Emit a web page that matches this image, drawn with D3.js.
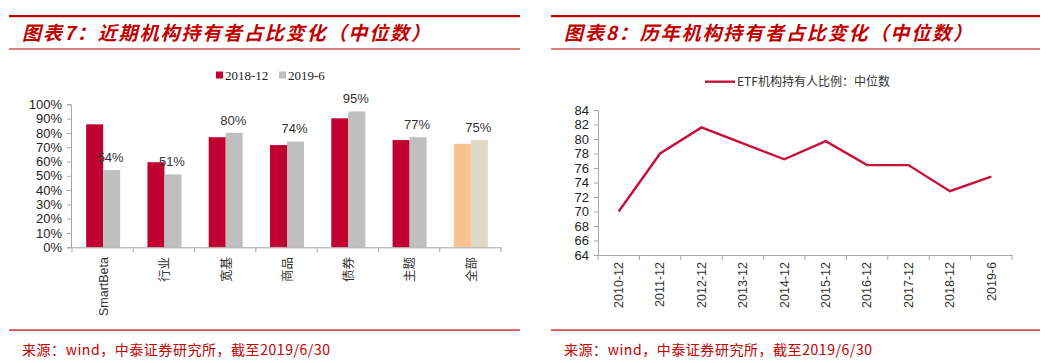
<!DOCTYPE html>
<html><head><meta charset="utf-8">
<script src="https://cdn.jsdelivr.net/npm/d3@7"></script>
<style>body{margin:0;background:#fff}svg{display:block}</style>
</head><body>
<svg id="c" width="1048" height="363"></svg>
<script>
// ---- data ----
const barCategories = ["SmartBeta","行业","宽基","商品","债券","主题","全部"];
const series2018 = [0.86,0.595,0.77,0.715,0.902,0.75,0.724];
const series2019 = [0.54,0.51,0.80,0.74,0.95,0.77,0.75];
const barLabels = ["54%","51%","80%","74%","95%","77%","75%"];
const barYTicks = [0,0.1,0.2,0.3,0.4,0.5,0.6,0.7,0.8,0.9,1.0];
const legendNames = ["2018-12","2019-6"];

const lineCategories = ["2010-12","2011-12","2012-12","2013-12","2014-12","2015-12","2016-12","2017-12","2018-12","2019-6"];
const lineValues = [70.0,78.0,81.6,79.4,77.2,79.7,76.4,76.4,72.8,74.8];
const lineYTicks = [64,66,68,70,72,74,76,78,80,82,84];
const lineLegend = "ETF机构持有人比例：中位数";

const title1 = "图表7：近期机构持有者占比变化（中位数）";
const title2 = "图表8：历年机构持有者占比变化（中位数）";
const source = "来源：wind，中泰证券研究所，截至2019/6/30";

const svg = d3.select("#c");
const RED = "#C00000";
const CJK = "'Noto Sans CJK SC', sans-serif";
const ARIAL = "'Liberation Sans', Arial, sans-serif";
const TIMES = "'Liberation Serif', 'Times New Roman', serif";

// ---- frame: titles & rules ----
function frame(x0, x1, title) {
  svg.append("rect").attr("x", x0).attr("y", 15).attr("width", x1 - x0).attr("height", 2.2).attr("fill", RED);
  svg.append("rect").attr("x", x0).attr("y", 48.5).attr("width", x1 - x0).attr("height", 1).attr("fill", RED);
  svg.append("text").attr("x", x0 + 13).attr("y", 39.5).text(title)
    .attr("font-family", CJK).attr("font-weight", "bold").attr("font-style", "italic")
    .attr("font-size", 19).attr("fill", RED)
    .attr("textLength", 408).attr("lengthAdjust", "spacing");
  svg.append("rect").attr("x", x0).attr("y", 329.5).attr("width", x1 - x0).attr("height", 1.2).attr("fill", RED);
  svg.append("text").attr("x", x0 + 13).attr("y", 355).text(source)
    .attr("font-family", CJK).attr("font-size", 14).attr("fill", RED)
    .attr("textLength", 308).attr("lengthAdjust", "spacing");
}
frame(9, 520, title1);
frame(551, 1040, title2);

const AX = "#A6A6A6";

// ---- left bar chart ----
{
  const y = d3.scaleLinear().domain([0, 1]).range([247.3, 104.3]);
  const x = d3.scaleBand().domain(barCategories).range([72, 501]).paddingInner(0).paddingOuter(0);
  const bw = 17;
  const colors18 = barCategories.map((c, i) => i === 6 ? "#F9C290" : "#C00030");
  const colors19 = barCategories.map((c, i) => i === 6 ? "#DDD9C4" : "#BFBFBF");

  const g = svg.append("g");
  barCategories.forEach((c, i) => {
    const cx = x(c) + x.bandwidth() / 2 + 0.5;
    g.append("rect").attr("x", cx - bw).attr("y", y(series2018[i])).attr("width", bw)
      .attr("height", y(0) - y(series2018[i])).attr("fill", colors18[i]);
    g.append("rect").attr("x", cx).attr("y", y(series2019[i])).attr("width", bw)
      .attr("height", y(0) - y(series2019[i])).attr("fill", colors19[i]);
    g.append("text").attr("x", cx + bw / 2 - 1).attr("y", y(series2019[i]) - 8)
      .attr("text-anchor", "middle").attr("font-family", ARIAL).attr("font-size", 13)
      .attr("fill", "#333").text(barLabels[i]);
  });

  const ya = svg.append("g").attr("transform", "translate(71,0)")
    .call(d3.axisLeft(y).tickValues(barYTicks).tickFormat(d3.format(".0%")).tickSize(4).tickPadding(5));
  ya.select(".domain").attr("stroke", AX);
  ya.selectAll(".tick line").attr("stroke", AX);
  ya.selectAll(".tick text").attr("font-family", ARIAL).attr("font-size", 13).attr("fill", "#222");

  const xa = svg.append("g").attr("transform", "translate(0,247.3)")
    .call(d3.axisBottom(x).tickSize(0).tickFormat(""));
  xa.select(".domain").attr("stroke", AX);
  const bounds = barCategories.map(c => x(c)).concat([x.range()[1]]);
  xa.selectAll(".sep").data(bounds).enter().append("line").attr("class", "sep")
    .attr("x1", d => d).attr("x2", d => d).attr("y1", 0).attr("y2", 5).attr("stroke", AX);
  barCategories.forEach(c => {
    const cx = x(c) + x.bandwidth() / 2 + 1;
    svg.append("text").attr("transform", `translate(${cx},257) rotate(-90)`)
      .attr("text-anchor", "end").attr("dy", "0.35em")
      .attr("font-family", /[A-Za-z]/.test(c) ? ARIAL : CJK).attr("font-size", 12.5)
      .attr("fill", "#333").text(c);
  });

  // legend
  const lg = svg.append("g");
  const legendColors = ["#C00030", "#BFBFBF"];
  const lx = [216, 279];
  legendNames.forEach((n, i) => {
    lg.append("rect").attr("x", lx[i]).attr("y", 71.5).attr("width", 7).attr("height", 7).attr("fill", legendColors[i]);
    lg.append("text").attr("x", lx[i] + 9).attr("y", 79.5).attr("font-family", TIMES)
      .attr("font-size", 13).attr("fill", "#222").text(n);
  });
}

// ---- right line chart ----
{
  const y = d3.scaleLinear().domain([64, 84]).range([255, 110]);
  const x = d3.scaleBand().domain(lineCategories).range([598, 1012]).paddingInner(0).paddingOuter(0);

  const ya = svg.append("g").attr("transform", "translate(598,0)")
    .call(d3.axisLeft(y).tickValues(lineYTicks).tickSize(4).tickPadding(5));
  ya.select(".domain").attr("stroke", AX);
  ya.selectAll(".tick line").attr("stroke", AX);
  ya.selectAll(".tick text").attr("font-family", ARIAL).attr("font-size", 13).attr("fill", "#222");

  const xa = svg.append("g").attr("transform", "translate(0,255)")
    .call(d3.axisBottom(x).tickSize(0).tickFormat(""));
  xa.select(".domain").attr("stroke", AX);
  const bounds = lineCategories.map(c => x(c)).concat([x.range()[1]]);
  xa.selectAll(".sep").data(bounds).enter().append("line").attr("class", "sep")
    .attr("x1", d => d).attr("x2", d => d).attr("y1", 0).attr("y2", 5).attr("stroke", AX);
  lineCategories.forEach(c => {
    const cx = x(c) + x.bandwidth() / 2;
    svg.append("text").attr("transform", `translate(${cx},262) rotate(-90)`)
      .attr("text-anchor", "end").attr("dy", "0.35em")
      .attr("font-family", ARIAL).attr("font-size", 12.5).attr("fill", "#333").text(c);
  });

  const line = d3.line().x((d, i) => x(lineCategories[i]) + x.bandwidth() / 2).y(d => y(d));
  svg.append("path").datum(lineValues).attr("d", line).attr("fill", "none")
    .attr("stroke", "#C8103A").attr("stroke-width", 2.4).attr("stroke-linejoin", "miter");

  svg.append("line").attr("x1", 705).attr("x2", 735).attr("y1", 81.7).attr("y2", 81.7)
    .attr("stroke", "#C8103A").attr("stroke-width", 2.4);
  svg.append("text").attr("x", 737).attr("y", 86).attr("font-family", CJK).attr("font-size", 12)
    .attr("fill", "#333").attr("textLength", 153).attr("lengthAdjust", "spacing").text(lineLegend);
}
</script>
</body></html>
